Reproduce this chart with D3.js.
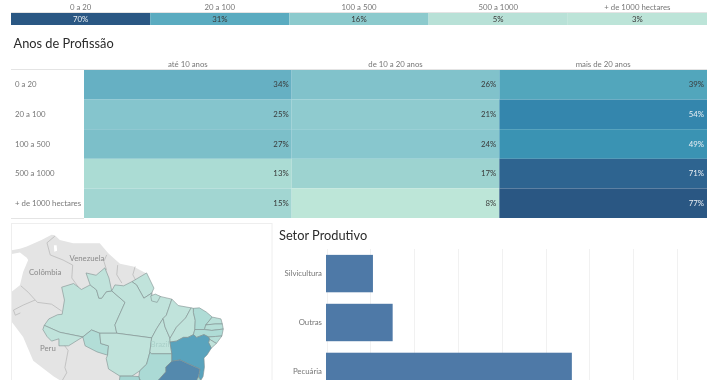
<!DOCTYPE html>
<html><head><meta charset="utf-8">
<script src="https://cdn.jsdelivr.net/npm/d3@7"></script>
<style>html,body{margin:0;padding:0;background:#fff;overflow:hidden}svg{display:block;filter:blur(.3px)}
text{font-family:Lato,"Open Sans",sans-serif}</style></head><body>
<svg id="c" width="720" height="380"></svg>
<script>
// ---- data ----
const sizeClasses = ["0 a 20","20 a 100","100 a 500","500 a 1000","+ de 1000 hectares"];
const totalValues = [70,31,16,5,3];
const totalStops = [3,5,16,31,70];
const totalColors = ["#bce4d8","#b8e1d7","#8ccacd","#5aabc0","#2a5783"];
const yearGroups = ["até 10 anos","de 10 a 20 anos","mais de 20 anos"];
const heatUpTo10 = [34,25,27,13,15];
const heat10to20 = [26,21,24,17,8];
const heatOver20 = [39,54,49,71,77];
const heatStops = [8,13,15,17,21,25,27,34,39,49,54,71,77];
const heatColors = ["#bde6d8","#abdcd4","#a2d6d2","#9dd3d0","#8fcbcf","#85c5cd","#7cbfc9","#66b0c3","#52a6bc","#3a93b3","#3486ad","#2e6490","#2a5783"];
const sectors = ["Silvicultura","Outras","Pecuária"];
const sectorValues = [10.6,15.1,56];
const sectorTicks = [0,10,20,30,40,50,60,70,80];

const landOutline = [[-83,9.7],[-80.9,9.7],[-79.1,10],[-77.6,10.5],[-74.4,11.9],[-72.2,13],[-71.5,12.9],[-70.4,11.9],[-67.5,11.2],[-61.7,11.2],[-59.8,9],[-57.3,6.8],[-54.4,6.2],[-51.5,4.7],[-50,0],[-45,-15],[-45,-25],[-67.8,-25],[-67.8,-20.3],[-70,-18.5],[-71.8,-17.4],[-76.2,-14.2],[-78.4,-9.1],[-80.9,-5.8],[-83,-5],[-83,0],[-80.9,0.7],[-79.1,2.1],[-78.4,5],[-77.3,7.6],[-77.6,8.1],[-79.1,9.2],[-80.9,8.9],[-83,8.9]];
const lakeMaracaibo = [[-71.7,10.8],[-71.1,10.8],[-71,9.6],[-71.6,9.4]];
const borderLines = [
 [[-71.5,12.7],[-73.2,11.3],[-72.5,8.7],[-69.7,7.6],[-67.6,6.5],[-67.8,3.7],[-66.4,1.8]],
 [[-60.2,8.7],[-60.8,7.3],[-60.2,5.4]],
 [[-57.8,6.5],[-58,4.4],[-56.9,2.6]],
 [[-54,6.2],[-54.5,4.4],[-53.7,2.9]],
 [[-78.9,2],[-77.3,0.6],[-75.3,-1.6],[-72.2,-2],[-70,-3.5]],
 [[-75.8,-1.1],[-78.4,-2.2],[-80.5,-3.3],[-80.1,-4.4],[-79,-3.9]],
 [[-69.7,-10.5],[-68.6,-12],[-69.3,-15.6],[-68.9,-16.7],[-70,-18.5]]
];
const stateNames = ["AM","RR","AP","PA","AC","RO","MT","TO","MA","PI","GO","MS","CE","RN","PB","PE","AL","SE","BA","MG","ES","Marajó"];
const stateValues = [3,3,3,3,3,7,3,3,3,3,9,12,8,5,6,8,6,3,31,42,14,3];
const stateShapes = [
 [[-73.8,-6.6],[-72.8,-5.2],[-70.9,-4.3],[-69.9,-4.2],[-69.4,-1.1],[-70,1.7],[-67.4,2.5],[-65.7,1.2],[-63.8,2.2],[-62.4,1.1],[-61.9,-0.7],[-61.3,-0.7],[-60.3,0.7],[-59.1,0.9],[-56.2,-1.6],[-58.4,-6.5],[-58,-8.3],[-61.7,-8.3],[-63.5,-7.6],[-65.4,-9.1],[-70.4,-8.1]],
 [[-64.7,4.8],[-63.8,2.2],[-62.4,1.1],[-61.9,-0.7],[-61.3,-0.7],[-60.3,0.7],[-59.1,0.9],[-59.7,3.7],[-60.6,5.9],[-62.5,4.3]],
 [[-54.7,2.9],[-51.5,4.8],[-49.9,1.5],[-50.4,0.4],[-52.1,-0.7],[-53.7,2.2]],
 [[-59.1,0.9],[-58.4,2.2],[-56.5,2.0],[-54.7,2.9],[-53.7,2.2],[-52.1,-0.7],[-50.4,0.4],[-50.4,-0.3],[-48.6,-0.3],[-46,-0.9],[-47.2,-4.4],[-47.9,-5.1],[-49.3,-7.3],[-50.4,-9.3],[-58,-8.3],[-58.4,-6.5],[-56.2,-1.6]],
 [[-73.8,-6.6],[-70.4,-8.1],[-65.4,-9.1],[-68.5,-11],[-70.6,-11],[-70.6,-9.5],[-72.2,-10],[-73.2,-9],[-74.1,-7.5]],
 [[-63.5,-7.6],[-61.7,-8.3],[-61.5,-10.5],[-59.8,-11],[-60,-13],[-62.3,-12.3],[-64.9,-11],[-65.4,-9.1]],
 [[-61.7,-8.3],[-58,-8.3],[-50.4,-9.3],[-50.8,-12.4],[-51.5,-14.9],[-53,-16.3],[-54.7,-17.4],[-57.3,-17.4],[-59.8,-15.9],[-60.3,-13.7],[-60,-13],[-59.8,-11],[-61.5,-10.5]],
 [[-47.9,-5.1],[-47.5,-6.9],[-46.4,-9.4],[-46.4,-10.2],[-46,-12.7],[-50.4,-12.7],[-50.8,-12.4],[-50.4,-9.3],[-49.3,-7.3]],
 [[-46,-0.9],[-44.6,-2.3],[-41.8,-2.8],[-43,-5],[-45,-7],[-46.4,-9.4],[-47.5,-6.9],[-47.9,-5.1],[-47.2,-4.4]],
 [[-41.8,-2.8],[-41.3,-2.9],[-41.3,-3.8],[-40.9,-5.5],[-41,-7.5],[-41.3,-8.6],[-42.5,-9.2],[-43.5,-9.2],[-45,-10],[-46.4,-10.2],[-46.4,-9.4],[-45,-7],[-43,-5]],
 [[-50.4,-12.7],[-46,-12.7],[-46,-14.3],[-47.3,-15.5],[-47.3,-16.5],[-49,-18.3],[-51,-19],[-53,-18.2],[-53.2,-17.5],[-53,-16.3],[-51.5,-14.9],[-50.8,-12.4]],
 [[-57.3,-17.4],[-54.7,-17.4],[-53.2,-17.5],[-53,-18.2],[-51,-19],[-53,-22.5],[-58,-22.5]],
 [[-41.3,-2.9],[-40,-2.8],[-38.5,-3.7],[-37.2,-4.8],[-38.6,-6.5],[-38.9,-7.5],[-41,-7.5],[-40.9,-5.5],[-41.3,-3.8]],
 [[-37.2,-4.8],[-35.3,-5.2],[-35,-6.3],[-36.5,-6.3],[-38.6,-6.5]],
 [[-38.6,-6.5],[-36.5,-6.3],[-35,-6.3],[-34.8,-7.4],[-37.3,-7.7],[-38.9,-7.5]],
 [[-41,-7.5],[-38.9,-7.5],[-37.3,-7.7],[-34.8,-7.4],[-35.1,-8.9],[-36.5,-9],[-38,-9.1],[-39,-8.6],[-40.6,-9.2],[-41.3,-8.6]],
 [[-38,-9.1],[-36.5,-9],[-35.1,-8.9],[-36.3,-10.5],[-37.8,-9.6]],
 [[-37.8,-9.6],[-36.3,-10.5],[-37.4,-11.5],[-38,-10.3]],
 [[-46.4,-10.2],[-45,-10],[-43.5,-9.2],[-42.5,-9.2],[-41.3,-8.6],[-40.6,-9.2],[-39,-8.6],[-38,-9.1],[-37.8,-9.6],[-38,-10.3],[-37.4,-11.5],[-38.3,-12.9],[-39,-13.6],[-38.9,-15.5],[-39.2,-17.5],[-39.7,-18.3],[-40.2,-17.5],[-39.9,-15.9],[-42.5,-14.8],[-44.2,-14],[-46,-14.3],[-46,-12.7]],
 [[-47.3,-15.5],[-46,-14.3],[-44.2,-14],[-42.5,-14.8],[-39.9,-15.9],[-40.2,-17.5],[-40.9,-19],[-43,-22],[-50,-20],[-51,-19],[-49,-18.3],[-47.3,-16.5]],
 [[-39.7,-18.3],[-39.8,-19.7],[-41,-21.3],[-41.8,-20.5],[-40.9,-19],[-40.2,-17.5]],
 [[-50.6,-0.2],[-49.6,0.2],[-48.5,-0.3],[-49.2,-1.6],[-50.4,-1.3]]
];
const mapStops = [3,9,14,31,42];
const mapColors = ["#c0e3db","#abdad5","#9fd1ce","#59a3bd","#5489ad"];
const mapLabelNames = ["Venezuela","Colômbia","Peru","Brazil"];
const mapLabelPlaces = [[-64.5,8],[-73.6,4.9],[-73,-11.6],[-48.6,-10.7]];

// ---- frame ----
const svg = d3.select("#c");
const gridCol="#e4e4e4", labelCol="#777", darkText="#3a3a3a", lightText="#e8eef3";
const labelSize=7.8;

// ---- top band ----
const xTop = d3.scaleBand().domain(sizeClasses).range([11,707]);
const cTop = d3.scaleLinear().domain(totalStops).range(totalColors);
const band = svg.append("g");
band.append("line").attr("x1",11).attr("x2",707).attr("y1",12.5).attr("y2",12.5).attr("stroke",gridCol);
band.selectAll("rect").data(sizeClasses).join("rect")
 .attr("x",d=>xTop(d)).attr("y",13).attr("width",xTop.bandwidth()).attr("height",12)
 .attr("fill",(d,i)=>cTop(totalValues[i]));
band.selectAll("text.h").data(sizeClasses).join("text").attr("class","h")
 .attr("x",d=>xTop(d)+xTop.bandwidth()/2).attr("y",7).attr("dy",".34em").attr("text-anchor","middle")
 .attr("font-size",labelSize).attr("fill",labelCol).text(d=>d);
band.selectAll("text.v").data(sizeClasses).join("text").attr("class","v")
 .attr("x",d=>xTop(d)+xTop.bandwidth()/2).attr("y",19).attr("dy",".34em").attr("text-anchor","middle")
 .attr("font-size",labelSize).attr("fill",(d,i)=>totalValues[i]>=50?lightText:darkText)
 .text((d,i)=>totalValues[i]+"%");

// ---- heat table ----
svg.append("text").attr("x",13.5).attr("y",44).attr("dy",".34em").attr("font-size",12.8).attr("fill","#2b2b2b")
 .text("Anos de Profissão");
const xHeat = d3.scaleBand().domain(yearGroups).range([84,707]);
const yHeat = d3.scaleBand().domain(sizeClasses).range([70,218]);
const cHeat = d3.scaleLinear().domain(heatStops).range(heatColors);
const heatRows = [heatUpTo10,heat10to20,heatOver20];
const heat = svg.append("g");
heat.append("line").attr("x1",11).attr("x2",707).attr("y1",69.5).attr("y2",69.5).attr("stroke",gridCol);
heat.append("line").attr("x1",11).attr("x2",84).attr("y1",218.5).attr("y2",218.5).attr("stroke",gridCol);
yearGroups.forEach((g,c)=>{
  heat.append("text").attr("x",xHeat(g)+xHeat.bandwidth()/2).attr("y",64).attr("dy",".34em").attr("text-anchor","middle")
    .attr("font-size",labelSize).attr("fill",labelCol).text(g);
  const col = heat.append("g");
  col.selectAll("rect").data(sizeClasses).join("rect")
    .attr("x",xHeat(g)).attr("y",d=>yHeat(d)).attr("width",xHeat.bandwidth()).attr("height",yHeat.bandwidth())
    .attr("fill",(d,i)=>cHeat(heatRows[c][i]));
  col.selectAll("text").data(sizeClasses).join("text")
    .attr("x",xHeat(g)+xHeat.bandwidth()-3).attr("y",d=>yHeat(d)+yHeat.bandwidth()/2).attr("dy",".34em").attr("text-anchor","end")
    .attr("font-size",labelSize).attr("fill",(d,i)=>heatRows[c][i]>=49?lightText:darkText)
    .text((d,i)=>heatRows[c][i]+"%");
});
heat.selectAll("text.r").data(sizeClasses).join("text").attr("class","r")
  .attr("x",15).attr("y",d=>yHeat(d)+yHeat.bandwidth()/2).attr("dy",".34em")
  .attr("font-size",labelSize).attr("fill",labelCol).text(d=>d);

// ---- map ----
const proj = d3.geoMercator().scale(263).translate([383,295]);
const geo = d3.geoPath(d3.geoTransform({point(lon,lat){const p=proj([lon,lat]);this.stream.point(p[0],p[1]);}}));
const ring = r=>({type:"Polygon",coordinates:[[...r,r[0]]]});
svg.append("clipPath").attr("id","mapclip").append("rect").attr("x",11.5).attr("y",223.5).attr("width",260).attr("height",157);
const mapG = svg.append("g").attr("clip-path","url(#mapclip)");
mapG.append("path").attr("d",geo(ring(landOutline))).attr("fill","#e4e4e4");
mapG.append("path").attr("d",geo(ring(lakeMaracaibo))).attr("fill","#fff");
mapG.selectAll("path.b").data(borderLines).join("path").attr("class","b")
  .attr("d",d=>geo({type:"LineString",coordinates:d})).attr("fill","none").attr("stroke","#b4b4b4").attr("stroke-width",.7);
const cMap = d3.scaleLinear().domain(mapStops).range(mapColors);
mapG.selectAll("path.s").data(stateNames).join("path").attr("class","s")
  .attr("d",(d,i)=>geo(ring(stateShapes[i]))).attr("fill",(d,i)=>cMap(stateValues[i]))
  .attr("stroke","#7f8f8e").attr("stroke-width",.6).attr("stroke-linejoin","round");
mapG.selectAll("text").data(mapLabelNames).join("text")
  .attr("x",(d,i)=>proj(mapLabelPlaces[i])[0]).attr("y",(d,i)=>proj(mapLabelPlaces[i])[1]).attr("dy",".34em")
  .attr("text-anchor","middle").attr("font-size",7.8).attr("fill",d=>d==="Brazil"?"#a9cfc8":"#8a8a8a").text(d=>d);
svg.append("rect").attr("x",11.5).attr("y",223.5).attr("width",260.5).attr("height",160).attr("fill","none").attr("stroke","#eeeeee");

// ---- bars ----
svg.append("text").attr("x",279).attr("y",236).attr("dy",".34em").attr("font-size",12.8).attr("fill","#2b2b2b")
 .text("Setor Produtivo");
const xBar = d3.scaleLinear().domain([0,80]).range([326.5,677]);
const yBar = d3.scaleBand().domain(sectors).range([249,396]).paddingInner(.235).paddingOuter(.12);
const bars = svg.append("g");
bars.selectAll("line").data(sectorTicks).join("line")
  .attr("x1",d=>Math.round(xBar(d))+.5).attr("x2",d=>Math.round(xBar(d))+.5).attr("y1",249).attr("y2",380)
  .attr("stroke","#f1f1f1");
bars.selectAll("rect").data(sectors).join("rect")
  .attr("x",xBar(0)-.5).attr("y",d=>yBar(d)).attr("width",(d,i)=>xBar(sectorValues[i])-xBar(0)+.5).attr("height",yBar.bandwidth())
  .attr("fill","#4e79a7");
const yAxis = d3.axisLeft(yBar).tickSize(0).tickPadding(4);
const ax = svg.append("g").attr("transform","translate(326,0)").call(yAxis);
ax.select(".domain").remove();
ax.selectAll("text").attr("font-size",labelSize).attr("font-family","Lato,'Open Sans',sans-serif").attr("fill",labelCol);
</script></body></html>
